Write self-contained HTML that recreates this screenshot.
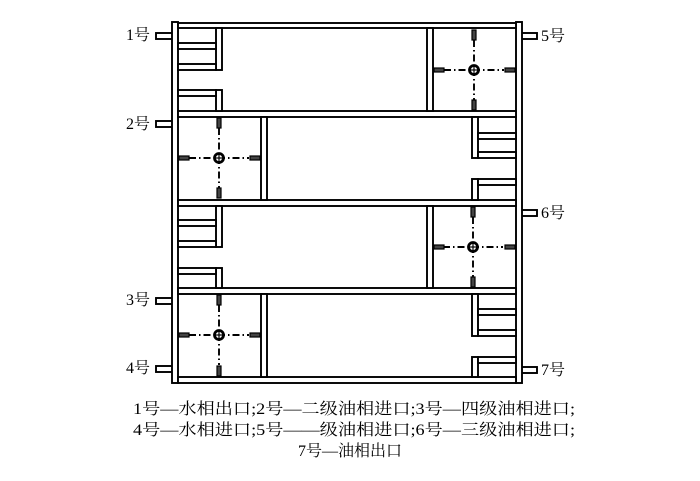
<!DOCTYPE html>
<html><head><meta charset="utf-8"><style>
html,body{margin:0;padding:0;background:#fff;}
svg{display:block;}
text{font-family:"Liberation Serif","Noto Serif CJK SC",serif;fill:#000;}
</style></head><body>
<svg width="700" height="481" viewBox="0 0 700 481" xmlns="http://www.w3.org/2000/svg">
<defs>
<g id="stir">
  <g stroke="#000" stroke-width="1.9" stroke-dasharray="7 3 1.5 3" fill="none">
    <line x1="-30" y1="0" x2="30" y2="0"/>
    <line x1="0" y1="-30" x2="0" y2="30"/>
  </g>
  <circle cx="0" cy="0" r="4.5" fill="#fff" stroke="#000" stroke-width="2.8"/>
  <line x1="-4" y1="0" x2="4" y2="0" stroke="#000" stroke-width="1.2"/>
  <line x1="0" y1="-4" x2="0" y2="4" stroke="#000" stroke-width="1.2"/>
</g>
</defs>
<g fill="#fff" stroke="#000" stroke-width="1.9">
  <rect x="156" y="33" width="17" height="6"/>
  <rect x="156" y="121" width="17" height="6"/>
  <rect x="156" y="298" width="17" height="6"/>
  <rect x="156" y="366" width="17" height="6"/>
  <rect x="521" y="33" width="16" height="6"/>
  <rect x="521" y="210" width="16" height="6"/>
  <rect x="521" y="367" width="16" height="6"/>
  <rect x="172" y="22" width="6" height="361"/>
  <rect x="516" y="22" width="6" height="361"/>
  <rect x="178" y="23" width="338" height="5"/>
  <rect x="178" y="377" width="338" height="6"/>
  <rect x="178" y="111" width="338" height="6"/>
  <rect x="178" y="200" width="338" height="6"/>
  <rect x="178" y="288" width="338" height="6"/>
  <rect x="216" y="28" width="6" height="42"/>
  <rect x="178" y="43" width="38" height="6"/>
  <rect x="178" y="64" width="38" height="6"/>
  <rect x="216" y="90" width="6" height="21"/>
  <rect x="178" y="90" width="38" height="6"/>
  <rect x="427" y="28" width="6" height="83"/>
  <rect x="261" y="117" width="6" height="83"/>
  <rect x="472" y="117" width="6" height="41"/>
  <rect x="478" y="133" width="38" height="6"/>
  <rect x="478" y="152" width="38" height="6"/>
  <rect x="472" y="179" width="6" height="21"/>
  <rect x="478" y="179" width="38" height="6"/>
  <rect x="216" y="206" width="6" height="41"/>
  <rect x="178" y="220" width="38" height="6"/>
  <rect x="178" y="241" width="38" height="6"/>
  <rect x="216" y="268" width="6" height="20"/>
  <rect x="178" y="268" width="38" height="6"/>
  <rect x="427" y="206" width="6" height="82"/>
  <rect x="261" y="294" width="6" height="83"/>
  <rect x="472" y="294" width="6" height="42"/>
  <rect x="478" y="309" width="38" height="6"/>
  <rect x="478" y="330" width="38" height="6"/>
  <rect x="472" y="357" width="6" height="20"/>
  <rect x="478" y="357" width="38" height="6"/>
</g>
<g>
  <use href="#stir" x="474" y="70"/>
  <use href="#stir" x="219" y="158"/>
  <use href="#stir" x="473" y="247"/>
  <use href="#stir" x="219" y="335"/>
</g>
<g fill="#444" stroke="#000" stroke-width="1.2">
  <rect x="472" y="30" width="4" height="10"/><rect x="472" y="100" width="4" height="10"/>
  <rect x="434" y="68" width="10" height="4"/><rect x="505" y="68" width="10" height="4"/>
  <rect x="217" y="118" width="4" height="10"/><rect x="217" y="188" width="4" height="10"/>
  <rect x="179" y="156" width="10" height="4"/><rect x="250" y="156" width="10" height="4"/>
  <rect x="471" y="207" width="4" height="10"/><rect x="471" y="277" width="4" height="10"/>
  <rect x="434" y="245" width="10" height="4"/><rect x="505" y="245" width="10" height="4"/>
  <rect x="217" y="295" width="4" height="10"/><rect x="217" y="366" width="4" height="10"/>
  <rect x="179" y="333" width="10" height="4"/><rect x="250" y="333" width="10" height="4"/>
</g>
<g font-size="16">
  <text x="126" y="40">1号</text>
  <text x="126" y="129">2号</text>
  <text x="126" y="305">3号</text>
  <text x="126" y="373">4号</text>
  <text x="541" y="41">5号</text>
  <text x="541" y="218">6号</text>
  <text x="541" y="375">7号</text>
</g>
<g font-size="16">
  <text x="133" y="414" textLength="442" lengthAdjust="spacingAndGlyphs">1号—水相出口;2号—二级油相进口;3号—四级油相进口;</text>
  <text x="133" y="435" textLength="442" lengthAdjust="spacingAndGlyphs">4号—水相进口;5号——级油相进口;6号—三级油相进口;</text>
  <text x="350" y="456" text-anchor="middle">7号—油相出口</text>
</g>
</svg>
</body></html>
